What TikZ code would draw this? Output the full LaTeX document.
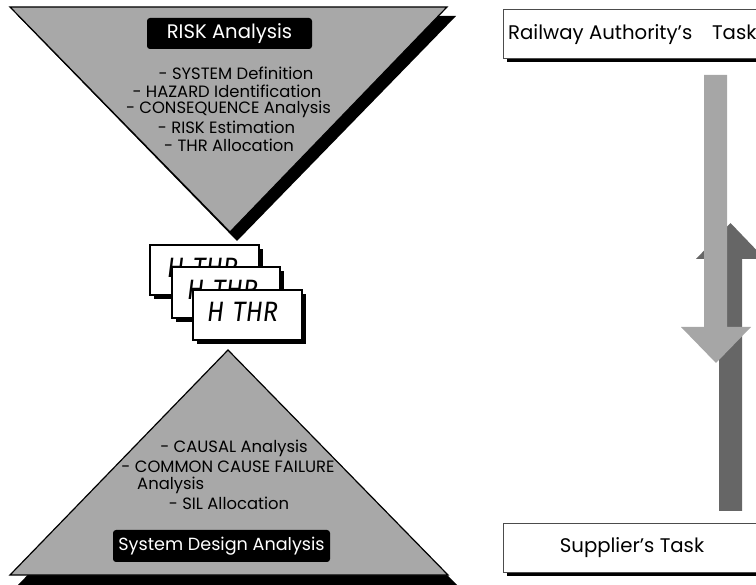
\documentclass[tikz,border=0pt]{standalone}
\usepackage{fontspec}
\setmainfont{Poppins}
\newfontfamily\cardfont[FakeStretch=0.9]{Fira Sans}
\definecolor{trigray}{HTML}{A8A8A8}
\definecolor{lightarrow}{HTML}{A6A6A6}
\definecolor{darkarrow}{HTML}{666666}
\tikzset{
  tri/.style={fill=trigray, draw=black, line width=1.2pt, line join=miter},
  shade/.style={fill=black},
  darklabel/.style={fill=black, text=white, rounded corners=3pt, inner sep=0pt},
  item/.style={inner sep=0pt, font=\fontsize{16.4}{16.4}\selectfont},
  card/.style={fill=white, draw=black, line width=1.2pt},
  cardtext/.style={inner sep=0pt, font=\cardfont\itshape\fontsize{28}{28}\selectfont},
  taskbox/.style={fill=white, draw=black!70, line width=0.8pt},
  tasktext/.style={inner sep=0pt, font=\fontsize{19.7}{19.7}\selectfont},
}
\newcommand{\hthr}{H\hspace{0.32em}THR}
\begin{document}
\begin{tikzpicture}[x=1pt,y=-1pt]
\useasboundingbox (0,0) rectangle (756,585);
\clip (0,0) rectangle (756,585);

% upper (inverted) triangle: risk analysis
\fill[shade] (18,16) -- (456,16) -- (237,241) -- cycle;
\path[tri] (10,7) -- (447,7) -- (230,232) -- cycle;
\node[darklabel, minimum width=165pt, minimum height=31pt, font=\fontsize{19.6}{19.6}\selectfont] (riskhead) at (229.5,33.5) {RISK Analysis};
\node[item] (r1) at (236,73) {- SYSTEM Definition};
\node[item] (r2) at (227,91) {- HAZARD Identification};
\node[item] (r3) at (228.5,109) {- CONSEQUENCE Analysis};
\node[item] (r4) at (226.5,127) {- RISK Estimation};
\node[item] (r5) at (229,145) {- THR Allocation};

% lower triangle: system design analysis
\fill[shade] (18,585) -- (457,585) -- (236,359) -- cycle;
\path[tri] (10,575) -- (448,575) -- (228,350) -- cycle;
\node[darklabel, minimum width=217pt, minimum height=32pt, font=\fontsize{17.6}{17.6}\selectfont] (sdhead) at (221.5,546) {System Design Analysis};
\node[item] (s1) at (234,448) {- CAUSAL Analysis};
\node[item] (s2) at (228,467) {- COMMON CAUSE FAILURE};
\node[item, anchor=west] (s3) at (137,485) {Analysis};
\node[item] (s4) at (229,503) {- SIL Allocation};

% stacked hazard / THR cards
\fill[shade] (154,249) rectangle (263,299);
\path[card] (150,245) rectangle (259,295);
\node[cardtext] (c1) at (202.5,268) {\hthr};
\fill[shade] (176,271) rectangle (284,322);
\path[card] (172,267) rectangle (280,318);
\node[cardtext] (c2) at (222.5,290) {\hthr};
\fill[shade] (197,294) rectangle (306,344);
\path[card] (193,290) rectangle (302,340);
\node[cardtext] (c3) at (242.5,312) {\hthr};

% task boxes
\fill[shade] (507,13) rectangle (775,62);
\path[taskbox] (503,9) rectangle (771,58);
\node[tasktext, anchor=west] (rat) at (508,35) {Railway Authority's\hspace{1em}Task};
\fill[shade] (507,527) rectangle (775,576);
\path[taskbox] (503,523) rectangle (771,572);
\node[tasktext] (st) at (632,548) {Supplier's Task};

% upward (dark) and downward (light) arrows
\fill[darkarrow] (719,511) -- (742,511) -- (742,259) -- (765,259) -- (730.5,223) -- (696,259) -- (719,259) -- cycle;
\fill[lightarrow] (704,75) -- (727,75) -- (727,327) -- (751,327) -- (716,363) -- (681,327) -- (704,327) -- cycle;
\end{tikzpicture}
\end{document}
